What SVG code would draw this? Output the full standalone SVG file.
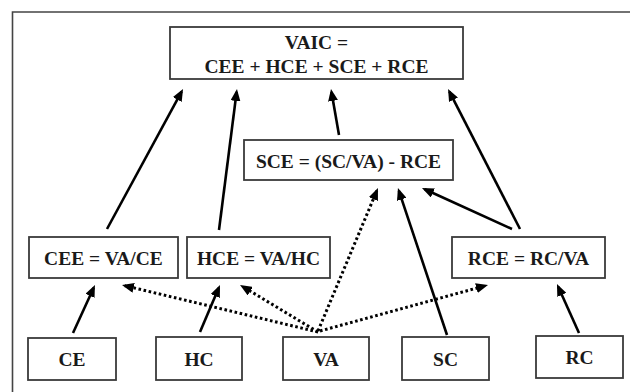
<svg xmlns="http://www.w3.org/2000/svg" width="630" height="392" viewBox="0 0 630 392">
<defs>
<style>
.box{fill:#fff;stroke:#3a3a3a;stroke-width:1.8}
.t{font-family:"Liberation Serif","Times New Roman",serif;font-weight:bold;font-size:19.5px;fill:#1a1a1a;text-anchor:middle}
.c{fill:none;stroke:#000;stroke-width:2.6;marker-end:url(#ah)}
.d{fill:none;stroke:#000;stroke-width:3;stroke-dasharray:2.6 2.6;marker-end:url(#ah)}
</style>
<marker id="ah" markerUnits="userSpaceOnUse" markerWidth="12" markerHeight="10" viewBox="0 0 12 10" refX="9" refY="5" orient="auto">
<path d="M0,0 L12,5 L0,10 z" fill="#000"/>
</marker>
</defs>
<rect x="0" y="0" width="630" height="392" fill="#fff"/>
<path d="M12.5,400 V12 H640" fill="none" stroke="#444" stroke-width="1.6"/>
<g id="n-vaic"><rect class="box" x="170" y="27" width="293" height="52"/><text class="t" x="316.5" y="49">VAIC =</text><text class="t" x="316.5" y="73">CEE + HCE + SCE + RCE</text></g>
<g id="n-sce"><rect class="box" x="244" y="140" width="209" height="40"/><text class="t" x="348.5" y="168">SCE = (SC/VA) - RCE</text></g>
<g id="n-cee"><rect class="box" x="29" y="237" width="149" height="41"/><text class="t" x="103.5" y="265">CEE = VA/CE</text></g>
<g id="n-hce"><rect class="box" x="187" y="237" width="143" height="41"/><text class="t" x="258.5" y="265">HCE = VA/HC</text></g>
<g id="n-rce"><rect class="box" x="452" y="237" width="153" height="41"/><text class="t" x="528.5" y="265">RCE = RC/VA</text></g>
<g id="n-ce"><rect class="box" x="28" y="338" width="88" height="42"/><text class="t" x="72" y="366">CE</text></g>
<g id="n-hc"><rect class="box" x="156" y="337" width="86" height="43"/><text class="t" x="199" y="366">HC</text></g>
<g id="n-va"><rect class="box" x="283" y="337" width="86" height="43"/><text class="t" x="326" y="366">VA</text></g>
<g id="n-sc"><rect class="box" x="402" y="337" width="87" height="43"/><text class="t" x="445.5" y="366">SC</text></g>
<g id="n-rc"><rect class="box" x="536" y="336" width="87" height="42"/><text class="t" x="579.5" y="364">RC</text></g>
<g id="connectors">
<path class="c" d="M107,229 L181.6,91.6"/>
<path class="c" d="M219,230 L236.6,92"/>
<path class="c" d="M339,135 L331.5,92"/>
<path class="c" d="M520,229 L449.4,91.7"/>
<path class="c" d="M512,229 L424.7,189.2"/>
<path class="c" d="M447,335 L398.9,190.8"/>
<path class="d" d="M318,331 L376.8,190.8"/>
<path class="d" d="M318,332 L124.9,285.7"/>
<path class="d" d="M318,332 L242.6,286.5"/>
<path class="d" d="M320,331 L485.1,285.8"/>
<path class="c" d="M73,333 L93.7,287.7"/>
<path class="c" d="M200,332 L218.8,287.8"/>
<path class="c" d="M579,333 L558.2,286.7"/>
</g>
</svg>
